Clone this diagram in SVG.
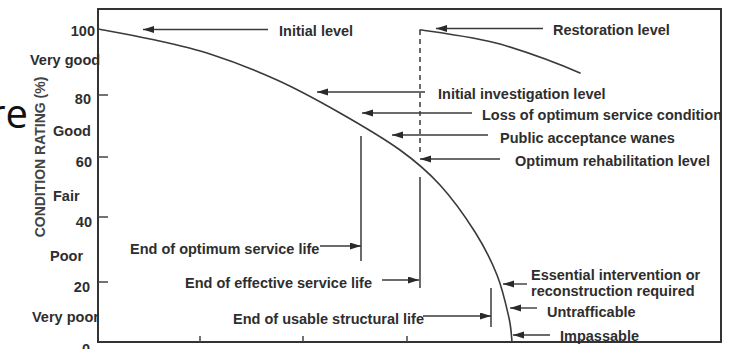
<svg xmlns="http://www.w3.org/2000/svg" width="733" height="349" viewBox="0 0 733 349">
  <defs>
    <marker id="ah" markerUnits="userSpaceOnUse" markerWidth="12" markerHeight="8" refX="11" refY="3.5" orient="auto">
      <path d="M0,0 L11,3.5 L0,7 z" fill="#2a2a2a"/>
    </marker>
  </defs>
  <style>
    .t { font-family: "Liberation Sans", Arial, sans-serif; font-weight: bold; font-size: 14.5px; fill: #2e2e2e; }
    .ax { stroke: #333; stroke-width: 2; fill: none; }
    .tk { stroke: #444; stroke-width: 1.5; }
    .cv { stroke: #3a3a3a; stroke-width: 1.6; fill: none; stroke-linejoin: round; stroke-linecap: round; }
    .ar { stroke: #3a3a3a; stroke-width: 1.4; fill: none; marker-end: url(#ah); }
    .vl { stroke: #3a3a3a; stroke-width: 1.5; fill: none; }
  </style>
  <rect width="733" height="349" fill="#ffffff"/>

  <text x="28" y="128" text-anchor="end" style="font-family:'Open Sans','Noto Sans',sans-serif;font-size:40px;fill:#111">re</text>

  <g id="axes">
    <path class="ax" d="M98,342 L98,9 L721,9 L721,342 Z"/>
    <line class="tk" x1="98" y1="95" x2="108" y2="95"/>
    <line class="tk" x1="98" y1="157" x2="108" y2="157"/>
    <line class="tk" x1="98" y1="217" x2="108" y2="217"/>
    <line class="tk" x1="98" y1="282" x2="108" y2="282"/>
    <line class="tk" x1="200" y1="336" x2="200" y2="342"/>
    <line class="tk" x1="303" y1="336" x2="303" y2="342"/>
    <line class="tk" x1="407" y1="336" x2="407" y2="342"/>
    <text class="t" x="95" y="36" text-anchor="end">100</text>
    <text class="t" x="91" y="104" text-anchor="end">80</text>
    <text class="t" x="92" y="167" text-anchor="end">60</text>
    <text class="t" x="92" y="227" text-anchor="end">40</text>
    <text class="t" x="90" y="292" text-anchor="end">20</text>
    <text class="t" x="90" y="354" text-anchor="end">0</text>
    <text class="t" x="30" y="65">Very good</text>
    <text class="t" x="53" y="136">Good</text>
    <text class="t" x="53" y="201">Fair</text>
    <text class="t" x="50" y="261">Poor</text>
    <text class="t" x="32" y="322">Very poor</text>
    <text class="t" transform="translate(45,157) rotate(-90)" text-anchor="middle" style="font-size:14px;fill:#444">CONDITION RATING (%)</text>
  </g>

  <g id="curves">
    <path class="cv" d="M98,29 C106.7,30.7 131.3,34.8 150,39 C168.7,43.2 188.8,47.2 210,54 C231.2,60.8 255.3,70.2 277,80 C298.7,89.8 319.5,101.3 340,113 C360.5,124.7 383.3,138 400,150 C416.7,162 427.5,171.3 440,185 C452.5,198.7 465.5,217 475,232 C484.5,247 491.3,260.7 497,275 C502.7,289.3 506.5,306.8 509,318 C511.5,329.2 511.5,338 512,342"/>
    <path class="cv" d="M420,30 L422,30 C450,34 480,38 500,44 S550,60 580,73"/>
    <line class="vl" x1="420" y1="30" x2="420" y2="155" stroke-dasharray="5,4"/>
    <line class="vl" x1="420" y1="177" x2="420" y2="288"/>
    <line class="vl" x1="361" y1="136" x2="361" y2="261"/>
    <line class="vl" x1="491" y1="288" x2="491" y2="327"/>
  </g>

  <g id="connectors">
    <line class="ar" x1="268" y1="29.5" x2="143" y2="29.5"/>
    <line class="ar" x1="543" y1="28.5" x2="436" y2="28.5"/>
    <line class="ar" x1="425" y1="92" x2="317" y2="92"/>
    <line class="ar" x1="472" y1="113" x2="362" y2="113"/>
    <line class="ar" x1="488" y1="135" x2="392" y2="135"/>
    <line class="ar" x1="500" y1="159" x2="420" y2="159"/>
    <line class="ar" x1="527" y1="284" x2="503" y2="284"/>
    <line class="ar" x1="537" y1="308" x2="510" y2="308"/>
    <line class="ar" x1="550" y1="335" x2="513" y2="335"/>
    <line class="ar" x1="320" y1="246" x2="361" y2="246"/>
    <line class="ar" x1="382" y1="280" x2="419" y2="280"/>
    <line class="ar" x1="423" y1="316" x2="491" y2="316"/>
  </g>

  <g id="label-initial-level"><text class="t" x="279" y="35.5">Initial level</text></g>
  <g id="label-restoration-level"><text class="t" x="553" y="35">Restoration level</text></g>
  <g id="label-initial-investigation"><text class="t" x="438" y="99">Initial investigation level</text></g>
  <g id="label-loss-optimum"><text class="t" x="482" y="120">Loss of optimum service condition</text></g>
  <g id="label-public-acceptance"><text class="t" x="500" y="143">Public acceptance wanes</text></g>
  <g id="label-optimum-rehab"><text class="t" x="515" y="166">Optimum rehabilitation level</text></g>
  <g id="label-essential"><text class="t" x="531" y="280">Essential intervention or</text><text class="t" x="531" y="296">reconstruction required</text></g>
  <g id="label-untrafficable"><text class="t" x="547" y="317">Untrafficable</text></g>
  <g id="label-impassable"><text class="t" x="560" y="341">Impassable</text></g>
  <g id="label-end-optimum"><text class="t" x="130" y="254">End of optimum service life</text></g>
  <g id="label-end-effective"><text class="t" x="185" y="288">End of effective service life</text></g>
  <g id="label-end-usable"><text class="t" x="233" y="324">End of usable structural life</text></g>
</svg>
